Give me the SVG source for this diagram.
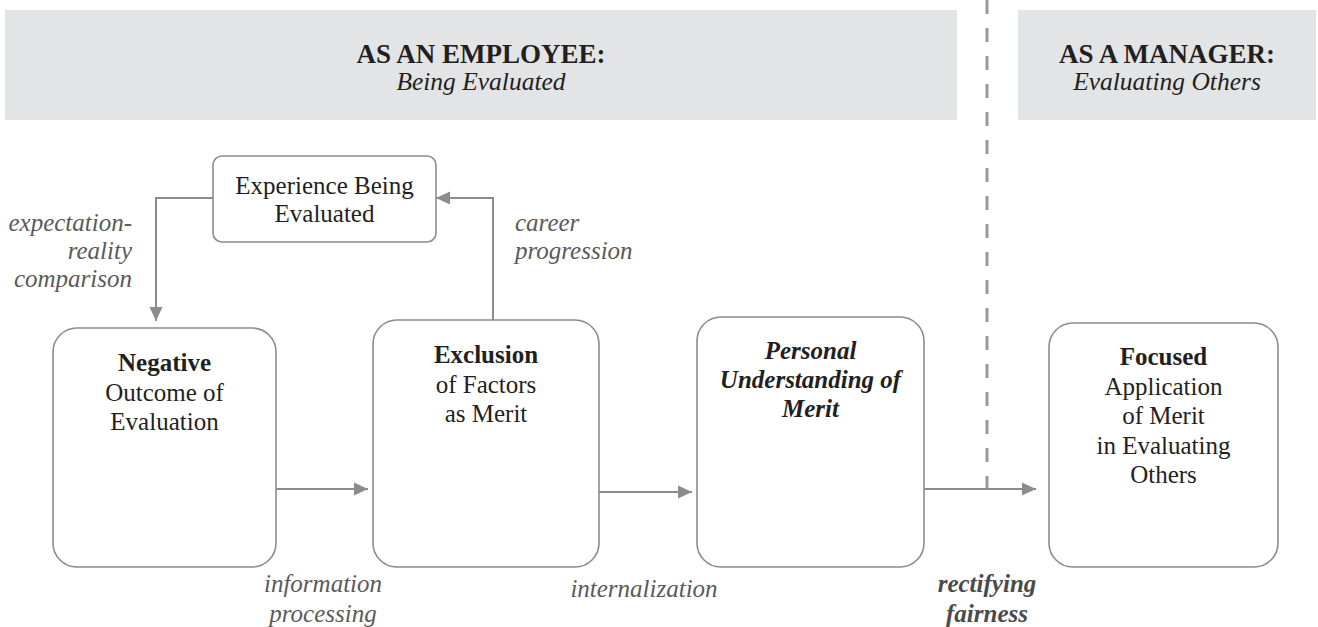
<svg xmlns="http://www.w3.org/2000/svg" width="1318" height="627" viewBox="0 0 1318 627">
  <style>
    .banner { fill: #e3e4e6; }
    .serif { font-family: "Liberation Serif", Tinos, "DejaVu Serif", serif; }
    .head { font-weight: bold; font-size: 27px; fill: #231f20; text-anchor: middle; }
    .sub { font-style: italic; font-size: 25.5px; fill: #231f20; text-anchor: middle; }
    .box { fill: #ffffff; stroke: #8c8c8c; stroke-width: 1.6; }
    .txt { font-size: 25px; fill: #231f20; text-anchor: middle; }
    .b { font-weight: bold; }
    .bi { font-weight: bold; font-style: italic; }
    .lbl { font-style: italic; font-size: 25px; fill: #5a5a5a; }
    .lblb { font-style: italic; font-weight: bold; font-size: 25px; fill: #4a4a4a; text-anchor: middle; }
    .conn { fill: none; stroke: #8c8c8c; stroke-width: 2; }
    .divider { fill: none; stroke: #999999; stroke-width: 3; stroke-dasharray: 14 14; }
  </style>
  <defs>
    <marker id="arrow" markerUnits="userSpaceOnUse" markerWidth="14" markerHeight="14" refX="14" refY="7" orient="auto">
      <path d="M0,0.5 L14,7 L0,13.5 Z" fill="#8c8c8c"/>
    </marker>
  </defs>

  <g class="serif" font-family="Liberation Serif, Tinos, DejaVu Serif, serif">
  <!-- phase banners -->
  <g id="banner-employee">
    <rect class="banner" x="5" y="10" width="952" height="110"/>
    <text class="head" x="481" y="63">AS AN EMPLOYEE:</text>
    <text class="sub" x="481" y="90">Being Evaluated</text>
  </g>
  <g id="banner-manager">
    <rect class="banner" x="1018" y="10" width="298" height="110"/>
    <text class="head" x="1167" y="63">AS A MANAGER:</text>
    <text class="sub" x="1167" y="90">Evaluating Others</text>
  </g>

  <!-- boundary between the two roles -->
  <line class="divider" x1="987" y1="0" x2="987" y2="488"/>

  <!-- connectors -->
  <g id="connectors">
    <path class="conn" d="M213,198 H156 V321" marker-end="url(#arrow)"/>
    <path class="conn" d="M493,320 V198 H436" marker-end="url(#arrow)"/>
    <path class="conn" d="M276,489 H368" marker-end="url(#arrow)"/>
    <path class="conn" d="M599,492 H692" marker-end="url(#arrow)"/>
    <path class="conn" d="M924,489 H1036" marker-end="url(#arrow)"/>

    <text class="lbl" x="132" y="231" text-anchor="end">expectation-</text>
    <text class="lbl" x="132" y="259" text-anchor="end">reality</text>
    <text class="lbl" x="132" y="287" text-anchor="end">comparison</text>

    <text class="lbl" x="515" y="231">career</text>
    <text class="lbl" x="515" y="259">progression</text>

    <text class="lbl" x="323" y="592" text-anchor="middle">information</text>
    <text class="lbl" x="323" y="622" text-anchor="middle">processing</text>

    <text class="lbl" x="644" y="597" text-anchor="middle">internalization</text>

    <text class="lblb" x="987" y="592">rectifying</text>
    <text class="lblb" x="987" y="622">fairness</text>
  </g>

  <!-- nodes -->
  <g id="node-experience">
    <rect class="box" x="213" y="156" width="223" height="86" rx="9"/>
    <text class="txt" x="324.5" y="194">Experience Being</text>
    <text class="txt" x="324.5" y="222">Evaluated</text>
  </g>

  <g id="node-negative">
    <rect class="box" x="53" y="328" width="223" height="239" rx="24"/>
    <text class="txt b" x="164.5" y="371">Negative</text>
    <text class="txt" x="164.5" y="400.5">Outcome of</text>
    <text class="txt" x="164.5" y="430">Evaluation</text>
  </g>

  <g id="node-exclusion">
    <rect class="box" x="373" y="320" width="226" height="247" rx="24"/>
    <text class="txt b" x="486" y="363">Exclusion</text>
    <text class="txt" x="486" y="392.5">of Factors</text>
    <text class="txt" x="486" y="422">as Merit</text>
  </g>

  <g id="node-personal">
    <rect class="box" x="697" y="317" width="227" height="250" rx="24"/>
    <text class="txt bi" x="810.5" y="359">Personal</text>
    <text class="txt bi" x="810.5" y="388">Understanding of</text>
    <text class="txt bi" x="810.5" y="417">Merit</text>
  </g>

  <g id="node-focused">
    <rect class="box" x="1049" y="323" width="229" height="244" rx="24"/>
    <text class="txt b" x="1163.5" y="365">Focused</text>
    <text class="txt" x="1163.5" y="394.5">Application</text>
    <text class="txt" x="1163.5" y="424">of Merit</text>
    <text class="txt" x="1163.5" y="453.5">in Evaluating</text>
    <text class="txt" x="1163.5" y="483">Others</text>
  </g>
  </g>
</svg>
